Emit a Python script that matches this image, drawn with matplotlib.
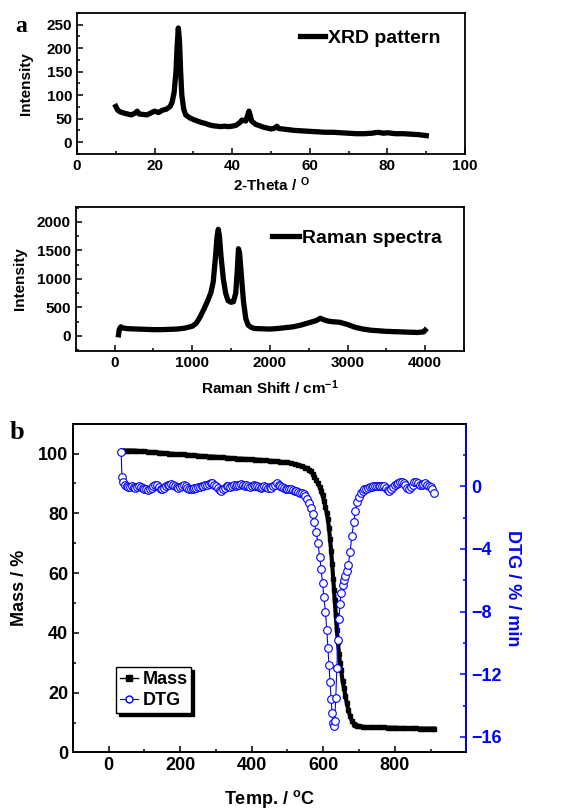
import numpy as np
import matplotlib
matplotlib.use("Agg")
import matplotlib.pyplot as plt
from matplotlib.ticker import MultipleLocator
from matplotlib.lines import Line2D

plt.rcParams['font.family'] = ['Liberation Sans', 'DejaVu Sans']
plt.rcParams['font.weight'] = 'bold'
plt.rcParams['axes.labelweight'] = 'bold'
plt.rcParams['mathtext.fontset'] = 'custom'
plt.rcParams['mathtext.rm'] = 'Liberation Sans:bold'
plt.rcParams['mathtext.bf'] = 'Liberation Sans:bold'
plt.rcParams['mathtext.it'] = 'Liberation Sans:bold'

# XRD pattern
xrd_theta = [10, 10.5, 11, 12, 13, 14, 15, 15.5, 16, 17, 18, 19, 20, 21, 22, 23, 24,
             24.5, 25, 25.5, 25.8, 26.1, 26.4, 26.7, 27, 27.5, 28, 29, 30, 31, 32, 33,
             34, 35, 36, 37, 38, 39, 40, 41, 42, 42.5, 43, 43.5, 44, 44.3, 44.7, 45,
             46, 47, 48, 49, 50, 51, 51.5, 52, 53, 54, 55, 56, 58, 60, 62, 64, 66, 68,
             70, 72, 74, 76, 77.5, 79, 80, 82, 84, 86, 88, 90]
xrd_int = [76, 68, 65, 62, 60, 58, 62, 66, 60, 59, 58, 62, 66, 63, 68, 70, 76,
           85, 105, 150, 205, 243, 215, 150, 100, 70, 58, 52, 48, 45, 42, 40,
           37, 35, 34, 33, 34, 33, 34, 36, 42, 47, 46, 45, 58, 66, 55, 45,
           38, 35, 32, 30, 28, 30, 34, 29, 28, 27, 26, 25, 24, 23, 22, 21, 21, 20,
           19, 18, 18, 19, 21, 19, 20, 18, 18, 17, 16, 14]

# Raman spectra
raman_shift = [50, 60, 80, 100, 150, 200, 300, 400, 500, 600, 700, 800, 900, 1000,
               1050, 1100, 1150, 1200, 1240, 1270, 1300, 1320, 1335, 1350, 1370, 1400,
               1430, 1460, 1500, 1530, 1560, 1580, 1595, 1610, 1630, 1660, 1690, 1720,
               1760, 1800, 1900, 2000, 2100, 2200, 2300, 2400, 2500, 2550, 2600, 2650,
               2700, 2750, 2800, 2900, 3000, 3100, 3200, 3300, 3400, 3500, 3600, 3700,
               3800, 3900, 3980, 4000]
raman_int = [20, 120, 160, 140, 130, 125, 120, 115, 110, 110, 115, 120, 135, 170,
             220, 330, 470, 620, 760, 950, 1400, 1750, 1870, 1750, 1400, 1000,
             750, 620, 590, 600, 750, 1150, 1530, 1450, 1100, 600, 300, 190,
             150, 130, 125, 120, 130, 145, 160, 190, 230, 250, 270, 310,
             280, 260, 250, 240, 200, 150, 120, 100, 90, 80, 75, 70,
             65, 60, 70, 100]

# TGA (mass)
temp = [35, 38, 42, 50, 60, 70, 80, 90, 100, 110, 120, 130, 140, 150, 160, 170, 180,
        190, 200, 210, 220, 230, 240, 250, 260, 270, 280, 290, 300, 310, 320, 330,
        340, 350, 360, 370, 380, 390, 400, 410, 420, 430, 440, 450, 460, 470, 480,
        490, 500, 510, 520, 530, 540, 550, 555, 560, 565, 570, 575, 580, 585, 590,
        594, 598, 602, 606, 610, 613, 616, 619, 622, 625, 628, 630, 632, 635, 638,
        641, 644, 647, 650, 654, 658, 662, 666, 670, 675, 680, 685, 690, 695, 700,
        710, 720, 730, 740, 750, 760, 770, 780, 790, 800, 810, 820, 830, 840, 850,
        860, 870, 880, 890, 900, 910]
mass = [100.6, 101, 101, 101, 101, 101, 100.9, 100.8, 100.8, 100.6, 100.5, 100.4,
        100.3, 100.2, 100.1, 100, 99.9, 99.8, 99.7, 99.7, 99.6, 99.5, 99.4, 99.3,
        99.2, 99.1, 99.0, 99.0, 98.9, 98.8, 98.7, 98.6, 98.5, 98.4, 98.3, 98.3,
        98.2, 98.1, 98.1, 98.0, 97.9, 97.8, 97.7, 97.6, 97.5, 97.4, 97.3, 97.1,
        97.0, 96.8, 96.5, 96.2, 95.8, 95.3, 95.0, 94.5, 94.0, 93.2, 92.3, 91.2,
        90.0, 88.8, 87.5, 86.0, 84.2, 82.2, 80.0, 78.0, 75.0, 71.5, 67.5, 63.0,
        58.0, 54.5, 51.0, 46.0, 41.0, 37.0, 33.0, 30.0, 27.5, 24.0, 21.5, 19.0,
        16.5, 14.3, 12.2, 10.6, 9.6, 9.1, 8.8, 8.7, 8.6, 8.5, 8.5, 8.5, 8.4, 8.4,
        8.4, 8.3, 8.3, 8.3, 8.2, 8.2, 8.2, 8.1, 8.1, 8.1, 8.0, 8.0, 8.0, 8.0, 8.0]

# DTG, sampled every 5 degC outside the decomposition step
dtg_temp = ([35, 37] + list(range(40, 550, 5)) +
            [550, 555, 560, 565, 570, 575, 580, 585, 590, 594, 598, 602, 606, 610,
             613, 616, 619, 622, 625, 628, 630, 632, 635, 638, 641, 644, 647, 650,
             654, 658, 662, 666, 670, 675, 680, 685, 690, 695, 700, 705, 710, 715,
             720] + list(range(725, 915, 5)))
dtg = [2.2, 0.6,
       0.3, 0.1, 0.0, -0.05, -0.05, 0.0, -0.05, -0.1, -0.05, 0.0,
       -0.05, -0.1, -0.15, -0.2, -0.25, -0.2, -0.1, 0.0, 0.1, 0.05,
       -0.05, -0.15, -0.2, -0.1, 0.0, 0.05, 0.1, 0.15, 0.1, 0.0,
       -0.05, -0.1, -0.05, 0.0, 0.05, 0.0, -0.1, -0.15, -0.2, -0.15,
       -0.1, -0.1, -0.05, -0.05, 0.0, 0.0, 0.05, 0.1, 0.15, 0.2,
       0.2, 0.1, 0.0, -0.1, -0.25, -0.3, -0.2, -0.1, 0.0, 0.0,
       -0.05, 0.0, 0.05, 0.0, 0.05, 0.1, 0.15, 0.1, 0.0, 0.05,
       0.0, -0.05, 0.0, 0.05, 0.0, 0.0, -0.05, -0.1, -0.05, 0.0,
       -0.05, -0.1, -0.05, -0.1, 0.0, 0.1, 0.2, 0.1, 0.0, -0.05,
       -0.1, -0.15, -0.15, -0.2, -0.2, -0.25, -0.3, -0.3, -0.35, -0.4,
       -0.4, -0.5,
       -0.6, -0.8, -1.1, -1.4, -1.8, -2.3, -2.9, -3.6, -4.5, -5.3, -6.2, -7.1,
       -8.0, -9.2, -10.3, -11.4, -12.5, -13.6, -14.5, -15.1, -15.3, -15.0, -13.5,
       -11.6, -9.8, -8.5, -7.5, -6.8, -6.3, -6.0, -5.7, -5.4, -5.0, -4.2, -3.2,
       -2.3, -1.6, -1.0, -0.7, -0.45, -0.3, -0.2, -0.15,
       -0.1, -0.05, -0.05, 0.0, 0.0, 0.0, 0.0, 0.0, 0.0, 0.0,
       -0.1, -0.25, -0.3, -0.2, -0.05, 0.1, 0.15, 0.2, 0.25, 0.3,
       0.2, 0.05, -0.1, -0.2, -0.05, 0.1, 0.25, 0.3, 0.2, 0.1,
       0.05, 0.15, 0.2, 0.1, 0.0, -0.05, -0.2, -0.4]

fig = plt.figure(figsize=(5.88, 8.10), dpi=100)


def style_axis(ax, size, spine_w=1.3):
    for s in ax.spines.values():
        s.set_linewidth(spine_w)
    ax.tick_params(which='both', direction='in', top=False, right=False,
                   labelsize=size, width=1.1)
    ax.tick_params(which='major', length=4.5)
    ax.tick_params(which='minor', length=2.5)


# panel a - XRD
ax1 = fig.add_axes([0.131, 0.810, 0.660, 0.174])
ax1.plot(xrd_theta, xrd_int, color='black', lw=3.8, solid_joinstyle='round',
         label='XRD pattern')
ax1.set_xlim(0, 100)
ax1.set_ylim(-25, 275)
ax1.xaxis.set_major_locator(MultipleLocator(20))
ax1.xaxis.set_minor_locator(MultipleLocator(10))
ax1.yaxis.set_major_locator(MultipleLocator(50))
ax1.yaxis.set_minor_locator(MultipleLocator(25))
style_axis(ax1, 11)
ax1.set_xlabel('2-Theta / $^{\\mathrm{O}}$', fontsize=11, labelpad=2)
ax1.set_ylabel('Intensity', fontsize=11, labelpad=10)
ax1.legend(loc='center right', bbox_to_anchor=(0.956, 0.823), borderaxespad=0,
           frameon=False, fontsize=14, handlelength=1.3, handletextpad=0.15)

# panel a - Raman
ax2 = fig.add_axes([0.129, 0.567, 0.660, 0.178])
ax2.plot(raman_shift, raman_int, color='black', lw=3.8, solid_joinstyle='round',
         label='Raman spectra')
ax2.set_xlim(-500, 4500)
ax2.set_ylim(-260, 2270)
ax2.xaxis.set_major_locator(MultipleLocator(1000))
ax2.xaxis.set_minor_locator(MultipleLocator(500))
ax2.yaxis.set_major_locator(MultipleLocator(500))
ax2.yaxis.set_minor_locator(MultipleLocator(250))
style_axis(ax2, 11)
ax2.set_xlabel('Raman Shift / cm$^{-1}$', fontsize=11, labelpad=6)
ax2.set_ylabel('Intensity', fontsize=11, labelpad=7)
ax2.legend(loc='center right', bbox_to_anchor=(0.964, 0.783), borderaxespad=0,
           frameon=False, fontsize=14, handlelength=1.4, handletextpad=0.15)

# panel b - TGA / DTG
ax3 = fig.add_axes([0.124, 0.071, 0.669, 0.406])
ax3.plot(temp, mass, color='black', lw=3, marker='s', ms=3.5, mec='black')
ax3.set_xlim(-100, 1000)
ax3.set_ylim(0, 110)
ax3.set_xticks([0, 200, 400, 600, 800])
ax3.xaxis.set_minor_locator(MultipleLocator(100))
ax3.set_yticks([0, 20, 40, 60, 80, 100])
ax3.yaxis.set_minor_locator(MultipleLocator(10))
style_axis(ax3, 13)
ax3.set_xlabel('Temp. / $^{\\mathrm{o}}$C', fontsize=13, labelpad=10)
ax3.set_ylabel('Mass / %', fontsize=13, labelpad=7)

ax4 = ax3.twinx()
ax4.plot(dtg_temp, dtg, color='blue', lw=0.8, marker='o', ms=5.5, mfc='white',
         mec='blue', mew=0.8)
ax4.set_ylim(-17, 4)
ax4.set_yticks([-16, -12, -8, -4, 0])
ax4.yaxis.set_minor_locator(MultipleLocator(2))
ax4.tick_params(which='both', direction='in', colors='blue', labelsize=13,
                width=1.1, right=True, left=False)
ax4.tick_params(which='major', length=4.5)
ax4.tick_params(which='minor', length=2.5)
for s in ax4.spines.values():
    s.set_linewidth(1.3)
ax4.spines['right'].set_color('blue')
ax4.set_ylabel('DTG / % / min', color='blue', fontsize=13, rotation=-90,
               labelpad=14)

handles = [Line2D([], [], color='black', lw=1, marker='s', ms=4),
           Line2D([], [], color='blue', lw=0.8, marker='o', ms=5, mfc='white',
                  mec='blue')]
leg = ax3.legend(handles, ['Mass', 'DTG'], loc='lower left',
                 bbox_to_anchor=(0.11, 0.12), borderaxespad=0, fontsize=13,
                 fancybox=False, edgecolor='black',
                 shadow={'color': 'black', 'alpha': 1},
                 handlelength=1.0, handletextpad=0.25, borderpad=0.2,
                 labelspacing=0.25, framealpha=1)
leg.get_frame().set_linewidth(1.0)

fig.text(0.026, 0.967, 'a', fontsize=17, fontweight='bold',
         family='Liberation Serif', ha='left', va='center')
fig.text(0.017, 0.466, 'b', fontsize=19, fontweight='bold',
         family='Liberation Serif', ha='left', va='center')

fig.savefig('out.png', dpi=100)
